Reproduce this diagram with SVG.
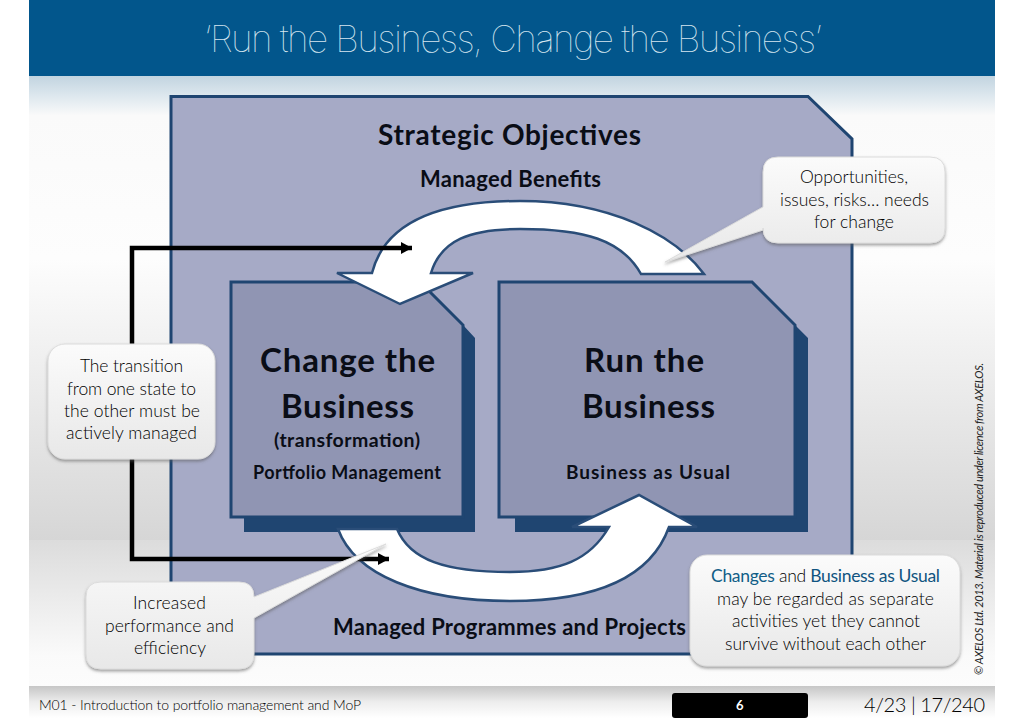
<svg xmlns="http://www.w3.org/2000/svg" width="1024" height="725" viewBox="0 0 1024 725">
<defs>
<linearGradient id="bg" x1="0" y1="0" x2="0" y2="1">
<stop offset="0" stop-color="#c2d4e0"/><stop offset="0.03" stop-color="#dbe6ed"/><stop offset="0.065" stop-color="#fafafa"/><stop offset="0.3" stop-color="#fdfdfd"/><stop offset="0.55" stop-color="#e8e8e8"/><stop offset="0.76" stop-color="#d6d6d6"/><stop offset="0.761" stop-color="#dcdcdc"/><stop offset="0.95" stop-color="#fafafa"/><stop offset="1" stop-color="#fcfcfc"/>
</linearGradient>
<linearGradient id="foot" x1="0" y1="0" x2="0" y2="1">
<stop offset="0" stop-color="#c6c6c6"/><stop offset="0.5" stop-color="#ededed"/><stop offset="1" stop-color="#ffffff"/>
</linearGradient>
<linearGradient id="call" x1="0" y1="0" x2="0" y2="1">
<stop offset="0" stop-color="#fbfbfb"/><stop offset="1" stop-color="#e8e8e8"/>
</linearGradient>
<filter id="sh" x="-10%" y="-10%" width="120%" height="125%">
<feDropShadow dx="0" dy="2" stdDeviation="1.5" flood-color="#555" flood-opacity="0.55"/>
</filter>
<marker id="ah" markerUnits="userSpaceOnUse" markerWidth="14" markerHeight="14" refX="11" refY="7" orient="auto">
<path d="M0 1 L11 7 L0 13 Z" fill="#000"/>
</marker>
</defs>
<style>
text{font-family:Lato,"Open Sans",sans-serif;text-anchor:start}
.b{font-weight:700;fill:#0a0d16}
.c{font-weight:300;fill:#000;font-size:17.500px}
.panel{fill:#a6aac6;stroke:#1f4571;stroke-width:3}
.box{fill:#9095b3;stroke:#1f4571;stroke-width:3}
.shadow{fill:#1f4571}
.arrow{fill:#fff;stroke:#2a4d78;stroke-width:2.500;stroke-linejoin:miter}
.callout{fill:url(#call);stroke:#dcdcdc;stroke-width:1;filter:url(#sh)}
.link{fill:none;stroke:#000;stroke-width:4.500;stroke-linejoin:miter}
</style>

<rect x="0" y="0" width="1024" height="725" fill="#fff"/>
<rect x="29" y="76" width="966" height="610" fill="url(#bg)"/>
<rect x="29" y="686" width="966" height="32" fill="url(#foot)"/>
<rect id="header" x="29" y="0" width="966" height="76" fill="#02568c"/>
<text x="204" y="52" font-size="37" textLength="618" style="font-family:Inter,Roboto,sans-serif;font-weight:100;fill:#d6e6f0">‘Run the Business, Change the Business’</text>

<g id="panel">
<path class="panel" d="M171 96.500H808L852 139V654H171Z"/>
<text class="b" x="378" y="145" font-size="28" textLength="263">Strategic Objectives</text>
<text class="b" x="420" y="187" font-size="22" textLength="181">Managed Benefits</text>
<text class="b" x="333" y="635" font-size="22" textLength="353">Managed Programmes and Projects</text>
</g>

<g id="change-box">
<path class="shadow" d="M244 338H463V325L475 338V532H244Z"/>
<path class="box" d="M231 282H420L463 325V517H231Z"/>
<text class="b" x="260" y="372" font-size="33" textLength="175">Change the</text>
<text class="b" x="281" y="418" font-size="33" textLength="133">Business</text>
<text class="b" x="274" y="447" font-size="19.500" textLength="146">(transformation)</text>
<text class="b" x="253" y="479" font-size="18" textLength="188">Portfolio Management</text>
</g>

<g id="run-box">
<path class="shadow" d="M515 338H795V325L808 338V532H515Z"/>
<path class="box" d="M499 282H752L795 325V517H499Z"/>
<text class="b" x="584" y="372" font-size="33" textLength="120">Run the</text>
<text class="b" x="582" y="418" font-size="33" textLength="133">Business</text>
<text class="b" x="566" y="479" font-size="19" textLength="164">Business as Usual</text>
</g>

<g id="connectors">
<path id="cycle-top" class="arrow" d="M704 274C675 235 610 201 520 201C440 201 385 222 372 273H337L400 304L473 273H431C441 240 470 229 520 229C585 229 622 240 641 274Z"/>
<path id="cycle-bottom" class="arrow" d="M338 529C355 575 420 601 510 601C590 601 650 580 669 527H697L639 495L572 527H609C590 560 560 572 510 572C445 572 410 560 397 529Z"/>
<path class="link" marker-end="url(#ah)" d="M132 350V248H412"/>
<path class="link" marker-end="url(#ah)" d="M132 455V559H389"/>
</g>

<g id="callout-opportunities">
<path class="callout" d="M778 157H930Q945 157 945 172V228Q945 243 930 243H778Q763 243 763 228V230L665 262L763 207V172Q763 157 778 157Z"/>
<text class="c" x="800" y="183" textLength="108">Opportunities,</text>
<text class="c" x="780" y="206" textLength="149">issues, risks… needs</text>
<text class="c" x="814" y="228" textLength="80">for change</text>
</g>

<g id="callout-transition">
<rect class="callout" x="48" y="344" width="167" height="115" rx="17"/>
<text class="c" x="80" y="372" textLength="103">The transition</text>
<text class="c" x="67" y="395" textLength="129">from one state to</text>
<text class="c" x="64" y="417" textLength="136">the other must be</text>
<text class="c" x="66" y="439" textLength="131">actively managed</text>
</g>

<g id="callout-performance">
<path class="callout" d="M101 582H239Q254 582 254 597L386 544L254 618V654Q254 669 239 669H101Q86 669 86 654V597Q86 582 101 582Z"/>
<text class="c" x="133" y="609" textLength="73">Increased</text>
<text class="c" x="105" y="632" textLength="129">performance and</text>
<text class="c" x="134" y="654" textLength="72">efficiency</text>
</g>

<g id="callout-changes">
<rect class="callout" x="690" y="555" width="270" height="111" rx="17"/>
<text class="c" x="711" y="582" textLength="229"><tspan style="fill:#115e87;font-weight:400">Changes</tspan> and <tspan style="fill:#0f5480;font-weight:400">Business as Usual</tspan></text>
<text class="c" x="717" y="605" textLength="217">may be regarded as separate</text>
<text class="c" x="732" y="627" textLength="188">activities yet they cannot</text>
<text class="c" x="725" y="650" textLength="201">survive without each other</text>
</g>

<text transform="translate(983 675) rotate(-90)" font-size="11" font-style="italic" fill="#222" textLength="312">© AXELOS Ltd. 2013. Material is reproduced under licence from AXELOS.</text>

<g id="footer">
<text x="39" y="710" font-size="14" font-weight="300" fill="#000" textLength="322">M01 - Introduction to portfolio management and MoP</text>
<rect x="672" y="693" width="136" height="25" rx="3" fill="#000"/>
<text x="736" y="710" font-size="13" font-weight="700" fill="#fff">6</text>
<text x="864" y="712" font-size="20" font-weight="300" fill="#000" textLength="121">4/23 | 17/240</text>
</g>
</svg>
